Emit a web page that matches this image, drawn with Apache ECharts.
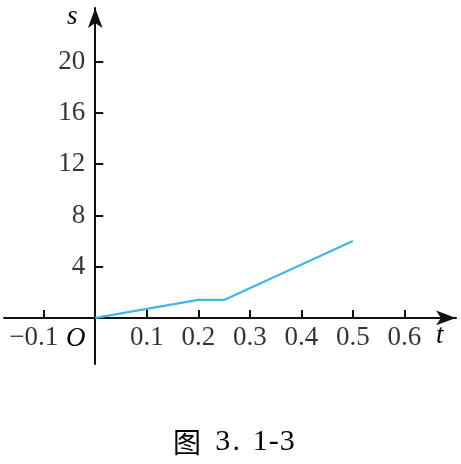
<!DOCTYPE html>
<html>
<head>
<meta charset="utf-8">
<script src="https://cdn.jsdelivr.net/npm/echarts@6/dist/echarts.min.js"></script>
<style>
html,body{margin:0;padding:0;background:#fff;}
#c{width:461px;height:464px;}
</style>
</head>
<body>
<div id="c"></div>
<script>
// data
var tValues = [0, 0.2, 0.25, 0.5];
var sValues = [0, 1.4, 1.4, 6];
var xTicks = [-0.1, 0.1, 0.2, 0.3, 0.4, 0.5, 0.6];
var yTicks = [4, 8, 12, 16, 20];
var caption = '图 3.1-3';

var chart = echarts.init(document.getElementById('c'));
var serif = '"Liberation Serif", "DejaVu Serif", serif';
var ink = '#000';

// caption as rich text: CJK char, gap, then fixed-width cells for the number
var capParts = caption.split(' ');
var capText = '{cjk|' + capParts[0] + '}{gap| }';
capParts[1].split('').forEach(function (ch) {
  capText += '{c|' + ch + '}';
  if (ch === '.') capText += '{sp| }';
});

chart.setOption({
  backgroundColor: '#fff',
  animation: false,
  grid: {left: 4, right: 5, top: 8, bottom: 100, containLabel: false, outerBoundsMode: 'none'},
  xAxis: {
    type: 'value', min: -0.177, max: 0.7,
    splitLine: {show: false},
    axisLine: {onZero: true, lineStyle: {color: '#111', width: 2}, symbol: ['none', 'arrow'], symbolSize: [11, 20]},
    axisTick: {show: true, inside: true, length: 8, lineStyle: {color: '#111', width: 2}, customValues: xTicks},
    axisLabel: {show: false}
  },
  yAxis: {
    type: 'value', min: -3.6, max: 24.2,
    splitLine: {show: false},
    axisLine: {onZero: true, lineStyle: {color: '#111', width: 2}, symbol: ['none', 'arrow'], symbolSize: [11, 20]},
    axisTick: {show: true, inside: true, length: 8, lineStyle: {color: '#111', width: 2}, customValues: yTicks},
    axisLabel: {show: false}
  },
  series: [{
    type: 'line',
    data: tValues.map(function (t, i) { return [t, sValues[i]]; }),
    showSymbol: false,
    lineStyle: {color: '#42b6e8', width: 2.3},
    itemStyle: {color: '#42b6e8'},
    z: 1
  }, {
    type: 'scatter', symbolSize: 0, silent: true,
    data: xTicks.map(function (t) { return [t, 0]; }),
    label: {
      show: true, position: 'bottom', distance: 7, color: ink, fontFamily: serif, fontSize: 27,
      formatter: function (p) {
        var v = p.value[0];
        return v < 0 ? '{neg|−' + String(-v) + '}' : String(v);
      },
      rich: {neg: {fontFamily: serif, fontSize: 27, color: ink, padding: [0, 20, 0, 0]}}
    }
  }, {
    type: 'scatter', symbolSize: 0, silent: true,
    data: yTicks.map(function (s) { return [0, s]; }),
    label: {
      show: true, position: 'left', distance: 10, color: ink, fontFamily: serif, fontSize: 27,
      formatter: function (p) { return String(p.value[1]); }
    }
  }],
  graphic: [
    {type: 'text', left: 67, top: 3, style: {text: 's', font: 'italic 27px ' + serif, fill: ink}},
    {type: 'text', left: 436, top: 322, style: {text: 't', font: 'italic 27px ' + serif, fill: ink}},
    {type: 'text', left: 66, top: 325, style: {text: 'O', font: 'italic 27px ' + serif, fill: ink}},
    {type: 'text', left: 173, top: 427, style: {
      text: capText,
      rich: {
        cjk: {fontFamily: '"Noto Sans CJK SC", serif', fontSize: 28, fill: ink, width: 28, align: 'center'},
        gap: {fontFamily: serif, fontSize: 26, width: 15},
        c: {fontFamily: serif, fontSize: 30, fill: ink, width: 13.5, align: 'center'},
        sp: {fontFamily: serif, fontSize: 26, width: 10.5}
      }
    }}
  ]
});
</script>
</body>
</html>
